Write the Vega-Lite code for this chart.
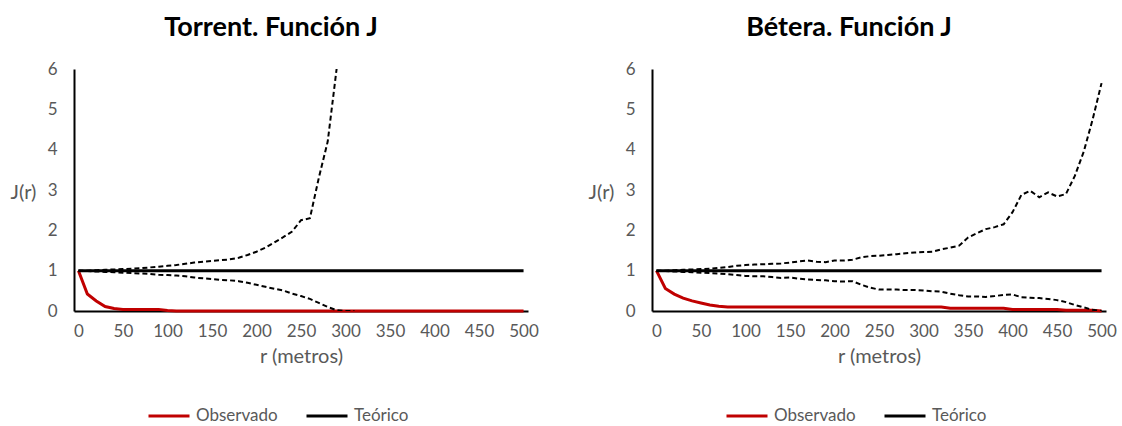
{
  "$schema": "https://vega.github.io/schema/vega-lite/v6.json",
  "padding": {"left": 10, "top": 14, "right": 5, "bottom": 5},
  "background": "white",
  "config": {
    "font": "Lato",
    "view": {"stroke": null},
    "axis": {"labelColor": "#595959", "labelFontSize": 17, "titleColor": "#595959", "titleFontSize": 20, "titleFontWeight": "normal", "domainColor": "#000000", "domainWidth": 2, "ticks": false, "grid": false},
    "title": {"fontSize": 27, "fontWeight": "bold", "color": "#000000", "anchor": "middle", "offset": 18, "dx": -30},
    "legend": {"orient": "none", "legendX": 73, "legendY": 325, "direction": "horizontal", "title": null, "symbolType": "stroke", "symbolSize": 1681, "symbolStrokeWidth": 3, "labelFontSize": 17, "labelColor": "#595959", "labelOffset": 5, "columnPadding": 22}
  },
  "datasets": {
    "d": [
      {"l":"T","s":"Observado","r":0,"J":1},{"l":"T","s":"Observado","r":10,"J":0.42},{"l":"T","s":"Observado","r":20,"J":0.25},{"l":"T","s":"Observado","r":30,"J":0.11},{"l":"T","s":"Observado","r":40,"J":0.06},{"l":"T","s":"Observado","r":50,"J":0.04},{"l":"T","s":"Observado","r":60,"J":0.04},{"l":"T","s":"Observado","r":70,"J":0.04},{"l":"T","s":"Observado","r":80,"J":0.04},{"l":"T","s":"Observado","r":90,"J":0.04},{"l":"T","s":"Observado","r":100,"J":0.01},{"l":"T","s":"Observado","r":110,"J":0},{"l":"T","s":"Observado","r":500,"J":0},
      {"l":"T","s":"Teórico","r":0,"J":1},{"l":"T","s":"Teórico","r":500,"J":1},
      {"l":"T","s":"Superior","r":0,"J":1},{"l":"T","s":"Superior","r":10,"J":1},{"l":"T","s":"Superior","r":20,"J":1.01},{"l":"T","s":"Superior","r":30,"J":1.02},{"l":"T","s":"Superior","r":40,"J":1.03},{"l":"T","s":"Superior","r":50,"J":1.04},{"l":"T","s":"Superior","r":60,"J":1.05},{"l":"T","s":"Superior","r":70,"J":1.06},{"l":"T","s":"Superior","r":80,"J":1.08},{"l":"T","s":"Superior","r":90,"J":1.1},{"l":"T","s":"Superior","r":100,"J":1.12},{"l":"T","s":"Superior","r":110,"J":1.14},{"l":"T","s":"Superior","r":120,"J":1.17},{"l":"T","s":"Superior","r":130,"J":1.2},{"l":"T","s":"Superior","r":140,"J":1.22},{"l":"T","s":"Superior","r":150,"J":1.24},{"l":"T","s":"Superior","r":160,"J":1.26},{"l":"T","s":"Superior","r":170,"J":1.28},{"l":"T","s":"Superior","r":180,"J":1.32},{"l":"T","s":"Superior","r":190,"J":1.39},{"l":"T","s":"Superior","r":200,"J":1.47},{"l":"T","s":"Superior","r":210,"J":1.57},{"l":"T","s":"Superior","r":220,"J":1.7},{"l":"T","s":"Superior","r":230,"J":1.83},{"l":"T","s":"Superior","r":240,"J":1.97},{"l":"T","s":"Superior","r":250,"J":2.25},{"l":"T","s":"Superior","r":260,"J":2.3},{"l":"T","s":"Superior","r":270,"J":3.3},{"l":"T","s":"Superior","r":280,"J":4.2},{"l":"T","s":"Superior","r":290,"J":6},
      {"l":"T","s":"Inferior","r":0,"J":1},{"l":"T","s":"Inferior","r":10,"J":0.99},{"l":"T","s":"Inferior","r":20,"J":0.98},{"l":"T","s":"Inferior","r":30,"J":0.97},{"l":"T","s":"Inferior","r":40,"J":0.96},{"l":"T","s":"Inferior","r":50,"J":0.95},{"l":"T","s":"Inferior","r":60,"J":0.94},{"l":"T","s":"Inferior","r":70,"J":0.93},{"l":"T","s":"Inferior","r":80,"J":0.92},{"l":"T","s":"Inferior","r":90,"J":0.9},{"l":"T","s":"Inferior","r":100,"J":0.89},{"l":"T","s":"Inferior","r":110,"J":0.88},{"l":"T","s":"Inferior","r":120,"J":0.86},{"l":"T","s":"Inferior","r":130,"J":0.83},{"l":"T","s":"Inferior","r":140,"J":0.81},{"l":"T","s":"Inferior","r":150,"J":0.79},{"l":"T","s":"Inferior","r":160,"J":0.77},{"l":"T","s":"Inferior","r":170,"J":0.76},{"l":"T","s":"Inferior","r":180,"J":0.74},{"l":"T","s":"Inferior","r":190,"J":0.7},{"l":"T","s":"Inferior","r":200,"J":0.65},{"l":"T","s":"Inferior","r":210,"J":0.6},{"l":"T","s":"Inferior","r":220,"J":0.55},{"l":"T","s":"Inferior","r":230,"J":0.51},{"l":"T","s":"Inferior","r":240,"J":0.43},{"l":"T","s":"Inferior","r":250,"J":0.37},{"l":"T","s":"Inferior","r":260,"J":0.3},{"l":"T","s":"Inferior","r":270,"J":0.2},{"l":"T","s":"Inferior","r":280,"J":0.1},{"l":"T","s":"Inferior","r":290,"J":0.02},{"l":"T","s":"Inferior","r":300,"J":0},{"l":"T","s":"Inferior","r":310,"J":0},
      {"l":"B","s":"Observado","r":0,"J":1},{"l":"B","s":"Observado","r":10,"J":0.56},{"l":"B","s":"Observado","r":20,"J":0.42},{"l":"B","s":"Observado","r":30,"J":0.32},{"l":"B","s":"Observado","r":40,"J":0.25},{"l":"B","s":"Observado","r":50,"J":0.2},{"l":"B","s":"Observado","r":60,"J":0.15},{"l":"B","s":"Observado","r":70,"J":0.12},{"l":"B","s":"Observado","r":80,"J":0.1},{"l":"B","s":"Observado","r":320,"J":0.1},{"l":"B","s":"Observado","r":330,"J":0.07},{"l":"B","s":"Observado","r":390,"J":0.07},{"l":"B","s":"Observado","r":400,"J":0.04},{"l":"B","s":"Observado","r":450,"J":0.04},{"l":"B","s":"Observado","r":460,"J":0.02},{"l":"B","s":"Observado","r":490,"J":0.02},{"l":"B","s":"Observado","r":500,"J":0},
      {"l":"B","s":"Teórico","r":0,"J":1},{"l":"B","s":"Teórico","r":500,"J":1},
      {"l":"B","s":"Superior","r":0,"J":1},{"l":"B","s":"Superior","r":10,"J":1},{"l":"B","s":"Superior","r":20,"J":1.01},{"l":"B","s":"Superior","r":30,"J":1.02},{"l":"B","s":"Superior","r":40,"J":1.03},{"l":"B","s":"Superior","r":50,"J":1.04},{"l":"B","s":"Superior","r":60,"J":1.05},{"l":"B","s":"Superior","r":70,"J":1.07},{"l":"B","s":"Superior","r":80,"J":1.09},{"l":"B","s":"Superior","r":90,"J":1.12},{"l":"B","s":"Superior","r":100,"J":1.14},{"l":"B","s":"Superior","r":110,"J":1.15},{"l":"B","s":"Superior","r":120,"J":1.16},{"l":"B","s":"Superior","r":130,"J":1.17},{"l":"B","s":"Superior","r":140,"J":1.18},{"l":"B","s":"Superior","r":150,"J":1.2},{"l":"B","s":"Superior","r":160,"J":1.23},{"l":"B","s":"Superior","r":170,"J":1.25},{"l":"B","s":"Superior","r":180,"J":1.22},{"l":"B","s":"Superior","r":190,"J":1.21},{"l":"B","s":"Superior","r":200,"J":1.25},{"l":"B","s":"Superior","r":210,"J":1.25},{"l":"B","s":"Superior","r":220,"J":1.27},{"l":"B","s":"Superior","r":230,"J":1.33},{"l":"B","s":"Superior","r":240,"J":1.36},{"l":"B","s":"Superior","r":250,"J":1.37},{"l":"B","s":"Superior","r":260,"J":1.39},{"l":"B","s":"Superior","r":270,"J":1.41},{"l":"B","s":"Superior","r":280,"J":1.43},{"l":"B","s":"Superior","r":290,"J":1.45},{"l":"B","s":"Superior","r":300,"J":1.46},{"l":"B","s":"Superior","r":310,"J":1.47},{"l":"B","s":"Superior","r":320,"J":1.53},{"l":"B","s":"Superior","r":330,"J":1.57},{"l":"B","s":"Superior","r":340,"J":1.62},{"l":"B","s":"Superior","r":350,"J":1.82},{"l":"B","s":"Superior","r":360,"J":1.93},{"l":"B","s":"Superior","r":370,"J":2.03},{"l":"B","s":"Superior","r":380,"J":2.08},{"l":"B","s":"Superior","r":390,"J":2.15},{"l":"B","s":"Superior","r":400,"J":2.45},{"l":"B","s":"Superior","r":410,"J":2.88},{"l":"B","s":"Superior","r":420,"J":2.98},{"l":"B","s":"Superior","r":430,"J":2.82},{"l":"B","s":"Superior","r":440,"J":2.94},{"l":"B","s":"Superior","r":450,"J":2.84},{"l":"B","s":"Superior","r":460,"J":2.9},{"l":"B","s":"Superior","r":470,"J":3.35},{"l":"B","s":"Superior","r":480,"J":3.95},{"l":"B","s":"Superior","r":490,"J":4.75},{"l":"B","s":"Superior","r":500,"J":5.65},
      {"l":"B","s":"Inferior","r":0,"J":1},{"l":"B","s":"Inferior","r":10,"J":0.99},{"l":"B","s":"Inferior","r":20,"J":0.98},{"l":"B","s":"Inferior","r":30,"J":0.97},{"l":"B","s":"Inferior","r":40,"J":0.96},{"l":"B","s":"Inferior","r":50,"J":0.95},{"l":"B","s":"Inferior","r":60,"J":0.94},{"l":"B","s":"Inferior","r":70,"J":0.93},{"l":"B","s":"Inferior","r":80,"J":0.91},{"l":"B","s":"Inferior","r":90,"J":0.89},{"l":"B","s":"Inferior","r":100,"J":0.87},{"l":"B","s":"Inferior","r":110,"J":0.86},{"l":"B","s":"Inferior","r":120,"J":0.86},{"l":"B","s":"Inferior","r":130,"J":0.84},{"l":"B","s":"Inferior","r":140,"J":0.82},{"l":"B","s":"Inferior","r":150,"J":0.83},{"l":"B","s":"Inferior","r":160,"J":0.8},{"l":"B","s":"Inferior","r":170,"J":0.78},{"l":"B","s":"Inferior","r":180,"J":0.77},{"l":"B","s":"Inferior","r":190,"J":0.76},{"l":"B","s":"Inferior","r":200,"J":0.74},{"l":"B","s":"Inferior","r":210,"J":0.73},{"l":"B","s":"Inferior","r":220,"J":0.74},{"l":"B","s":"Inferior","r":230,"J":0.65},{"l":"B","s":"Inferior","r":240,"J":0.58},{"l":"B","s":"Inferior","r":250,"J":0.53},{"l":"B","s":"Inferior","r":260,"J":0.53},{"l":"B","s":"Inferior","r":270,"J":0.53},{"l":"B","s":"Inferior","r":280,"J":0.52},{"l":"B","s":"Inferior","r":290,"J":0.52},{"l":"B","s":"Inferior","r":300,"J":0.51},{"l":"B","s":"Inferior","r":310,"J":0.49},{"l":"B","s":"Inferior","r":320,"J":0.48},{"l":"B","s":"Inferior","r":330,"J":0.43},{"l":"B","s":"Inferior","r":340,"J":0.39},{"l":"B","s":"Inferior","r":350,"J":0.36},{"l":"B","s":"Inferior","r":360,"J":0.36},{"l":"B","s":"Inferior","r":370,"J":0.35},{"l":"B","s":"Inferior","r":380,"J":0.37},{"l":"B","s":"Inferior","r":390,"J":0.4},{"l":"B","s":"Inferior","r":400,"J":0.41},{"l":"B","s":"Inferior","r":410,"J":0.34},{"l":"B","s":"Inferior","r":420,"J":0.33},{"l":"B","s":"Inferior","r":430,"J":0.32},{"l":"B","s":"Inferior","r":440,"J":0.3},{"l":"B","s":"Inferior","r":450,"J":0.27},{"l":"B","s":"Inferior","r":460,"J":0.22},{"l":"B","s":"Inferior","r":470,"J":0.15},{"l":"B","s":"Inferior","r":480,"J":0.09},{"l":"B","s":"Inferior","r":490,"J":0.03},{"l":"B","s":"Inferior","r":500,"J":0}
    ]
  },
  "spacing": 49,
  "resolve": {"scale": {"color": "independent"}, "legend": {"color": "independent"}},
  "hconcat": [
    {
      "width": 454, "height": 242,
      "title": {"text": "Torrent. Función J"},
      "data": {"name": "d"},
      "transform": [{"filter": "datum.l == 'T'"}],
      "encoding": {
        "x": {"field": "r", "type": "quantitative", "scale": {"domain": [-5, 505], "nice": false, "zero": false}, "axis": {"values": [0,50,100,150,200,250,300,350,400,450,500], "title": "r (metros)", "labelPadding": 12, "titlePadding": 7}},
        "y": {"field": "J", "type": "quantitative", "scale": {"domain": [0, 6], "nice": false}, "axis": {"values": [0,1,2,3,4,5,6], "title": "J(r)", "labelPadding": 17, "titleAngle": 0, "titleAlign": "left", "titleBaseline": "middle", "titleX": -64, "titleY": 123}}
      },
      "layer": [
        {"transform": [{"filter": "datum.s == 'Observado' || datum.s == 'Teórico'"}], "mark": {"type": "line", "strokeWidth": 3}, "encoding": {"color": {"field": "s", "type": "nominal", "scale": {"domain": ["Observado", "Teórico"], "range": ["#C00000", "#000000"]}}}},
        {"transform": [{"filter": "datum.s == 'Superior' || datum.s == 'Inferior'"}], "mark": {"type": "line", "strokeWidth": 2, "strokeDash": [5, 3], "color": "#000000", "clip": true}, "encoding": {"detail": {"field": "s", "type": "nominal"}}}
      ]
    },
    {
      "width": 454, "height": 242,
      "title": {"text": "Bétera. Función J"},
      "data": {"name": "d"},
      "transform": [{"filter": "datum.l == 'B'"}],
      "encoding": {
        "x": {"field": "r", "type": "quantitative", "scale": {"domain": [-5, 505], "nice": false, "zero": false}, "axis": {"values": [0,50,100,150,200,250,300,350,400,450,500], "title": "r (metros)", "labelPadding": 12, "titlePadding": 7}},
        "y": {"field": "J", "type": "quantitative", "scale": {"domain": [0, 6], "nice": false}, "axis": {"values": [0,1,2,3,4,5,6], "title": "J(r)", "labelPadding": 17, "titleAngle": 0, "titleAlign": "left", "titleBaseline": "middle", "titleX": -64, "titleY": 123}}
      },
      "layer": [
        {"transform": [{"filter": "datum.s == 'Observado' || datum.s == 'Teórico'"}], "mark": {"type": "line", "strokeWidth": 3}, "encoding": {"color": {"field": "s", "type": "nominal", "scale": {"domain": ["Observado", "Teórico"], "range": ["#C00000", "#000000"]}}}},
        {"transform": [{"filter": "datum.s == 'Superior' || datum.s == 'Inferior'"}], "mark": {"type": "line", "strokeWidth": 2, "strokeDash": [5, 3], "color": "#000000", "clip": true}, "encoding": {"detail": {"field": "s", "type": "nominal"}}}
      ]
    }
  ]
}
